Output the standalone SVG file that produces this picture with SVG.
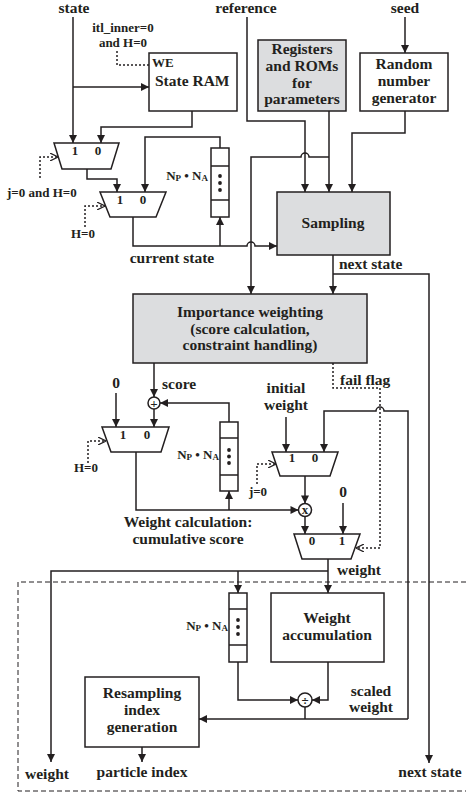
<svg xmlns="http://www.w3.org/2000/svg" width="466" height="795" viewBox="0 0 466 795">
<style>
text{font-family:"Liberation Serif","Times New Roman",serif;font-weight:bold;fill:#231f20;font-size:15.5px}
.s{font-size:13px}
.c{text-anchor:middle}
.e{text-anchor:end}
.box{fill:#fff;stroke:#231f20;stroke-width:1.5}
.gray{fill:#dcdddf}
.mux{fill:#fff;stroke:#231f20;stroke-width:1.5}
.w{fill:none;stroke:#231f20;stroke-width:1.5}
.a{marker-end:url(#arr)}
.d{fill:none;stroke:#231f20;stroke-width:1.5;stroke-dasharray:2,2}
.o{marker-end:url(#open)}
.dot{fill:#231f20}
</style>
<defs>
<marker id="arr" viewBox="0 0 10 10" refX="10" refY="5" markerWidth="9" markerHeight="8" markerUnits="userSpaceOnUse" orient="auto">
<path d="M0,0 L10,5 L0,10 z" fill="#231f20"/>
</marker>
<marker id="open" viewBox="0 0 10 10" refX="10" refY="5" markerWidth="8" markerHeight="8" markerUnits="userSpaceOnUse" orient="auto">
<path d="M0,0 L10,5 L0,10" fill="none" stroke="#231f20" stroke-width="1.5"/>
</marker>
</defs>
<rect width="466" height="795" fill="#fff"/>

<g id="labels">
<text class="c" x="74" y="13">state</text>
<text class="c" x="246" y="13">reference</text>
<text class="c" x="405" y="13">seed</text>
<text class="c s" x="123" y="32">itl_inner=0</text>
<text class="c s" x="123" y="47">and H=0</text>
<text class="s" x="7" y="197">j=0 and H=0</text>
<text class="c s" x="83" y="238">H=0</text>
<text class="c" x="172" y="263">current state</text>
<text x="339" y="269">next state</text>
<text x="162" y="389">score</text>
<text class="c" x="116" y="388">0</text>
<text class="c s" x="86" y="472">H=0</text>
<text class="c" x="286" y="393">initial</text>
<text class="c" x="286" y="410">weight</text>
<text x="340" y="385">fail flag</text>
<text class="c s" x="258" y="496">j=0</text>
<text class="c" x="343" y="497">0</text>
<text class="c" x="188" y="527">Weight calculation:</text>
<text class="c" x="188" y="544">cumulative score</text>
<text x="337" y="575">weight</text>
<text class="c" x="371" y="696">scaled</text>
<text class="c" x="371" y="712">weight</text>
<text class="c" x="47" y="779">weight</text>
<text class="c" x="142" y="777">particle index</text>
<text class="c" x="430" y="777">next state</text>
</g>

<g id="state-ram">
<rect class="box" x="149" y="53" width="88" height="58"/>
<text class="s" x="152" y="67">WE</text>
<text x="155" y="86">State RAM</text>
</g>

<g id="registers">
<rect class="box gray" x="258" y="40" width="88" height="71"/>
<text class="c" x="302" y="54">Registers</text>
<text class="c" x="302" y="71">and ROMs</text>
<text class="c" x="302" y="88">for</text>
<text class="c" x="302" y="104">parameters</text>
</g>

<g id="rng">
<rect class="box" x="360" y="53" width="88" height="58"/>
<text class="c" x="404" y="69">Random</text>
<text class="c" x="404" y="86">number</text>
<text class="c" x="404" y="103">generator</text>
</g>

<g id="mux1">
<polygon class="mux" points="54,143 119,143 111,169 62,169"/>
<text class="c s" x="75" y="155">1</text>
<text class="c s" x="98" y="155">0</text>
</g>

<g id="mux2">
<polygon class="mux" points="100,192 166,192 156,217 110,217"/>
<text class="c s" x="120" y="204">1</text>
<text class="c s" x="143" y="204">0</text>
</g>

<g id="fifo1">
<rect class="box" x="211" y="148" width="18" height="69"/>
<path class="w" d="M211,166 H229 M211,200 H229"/>
<circle class="dot" cx="220" cy="176" r="1.9"/>
<circle class="dot" cx="220" cy="183" r="1.9"/>
<circle class="dot" cx="220" cy="190" r="1.9"/>
<text class="s e" x="208" y="180">N<tspan font-size="9" dy="1">P</tspan><tspan dy="-1"> • N</tspan><tspan font-size="9" dy="1">A</tspan></text>
</g>

<g id="sampling">
<rect class="box gray" x="277" y="192" width="113" height="63"/>
<text class="c" x="333" y="228">Sampling</text>
</g>

<g id="importance">
<rect class="box gray" x="133" y="294" width="234" height="69"/>
<text class="c" x="250" y="317">Importance weighting</text>
<text class="c" x="250" y="333.5">(score calculation,</text>
<text class="c" x="250" y="350">constraint handling)</text>
</g>

<g id="adder">
<circle class="box" cx="154" cy="403" r="6"/>
<text class="c s" x="154" y="407.5">+</text>
</g>

<g id="mux3">
<polygon class="mux" points="102,427 169,427 161,452 111,452"/>
<text class="c s" x="123" y="439">1</text>
<text class="c s" x="147" y="439">0</text>
</g>

<g id="fifo2">
<rect class="box" x="220" y="422" width="18" height="69"/>
<path class="w" d="M220,438 H238 M220,475 H238"/>
<circle class="dot" cx="229" cy="450" r="1.9"/>
<circle class="dot" cx="229" cy="456.5" r="1.9"/>
<circle class="dot" cx="229" cy="463" r="1.9"/>
<text class="s e" x="219" y="459">N<tspan font-size="9" dy="1">P</tspan><tspan dy="-1"> • N</tspan><tspan font-size="9" dy="1">A</tspan></text>
</g>

<g id="mux4">
<polygon class="mux" points="272,452 338,452 330,476 280,476"/>
<text class="c s" x="292" y="462">1</text>
<text class="c s" x="315" y="462">0</text>
</g>

<g id="multiplier">
<circle class="box" cx="305" cy="510" r="6.5"/>
<text class="c s" x="305" y="514">x</text>
</g>

<g id="mux5">
<polygon class="mux" points="294,534 360,534 351,559 302,559"/>
<text class="c s" x="312" y="545">0</text>
<text class="c s" x="342" y="545">1</text>
</g>

<g id="fifo3">
<rect class="box" x="229" y="593" width="18" height="69"/>
<path class="w" d="M229,609 H247 M229,645 H247"/>
<circle class="dot" cx="238" cy="620" r="1.9"/>
<circle class="dot" cx="238" cy="627" r="1.9"/>
<circle class="dot" cx="238" cy="634" r="1.9"/>
<text class="s e" x="228" y="630">N<tspan font-size="9" dy="1">P</tspan><tspan dy="-1"> • N</tspan><tspan font-size="9" dy="1">A</tspan></text>
</g>

<g id="weight-accumulation">
<rect class="box" x="271" y="593" width="113" height="69"/>
<text class="c" x="327" y="623">Weight</text>
<text class="c" x="327" y="640">accumulation</text>
</g>

<g id="divider">
<circle class="box" cx="305" cy="700" r="7"/>
<text class="c s" x="305" y="704.5">÷</text>
</g>

<g id="resampling">
<rect class="box" x="85" y="677" width="114" height="70"/>
<text class="c" x="142" y="698">Resampling</text>
<text class="c" x="142" y="715">index</text>
<text class="c" x="142" y="732">generation</text>
</g>

<g id="connectors">
<path class="w a" d="M73,17 V143"/>
<path class="w a" d="M73,87 H149"/>
<path class="d" d="M117,51 V65 H149"/>
<path class="w a" d="M192,111 V127 H101 V143"/>
<path class="w a" d="M405,17 V53"/>
<path class="w a" d="M87,169 V179 H117 V192"/>
<path class="d o" d="M40,178 V157 H58"/>
<path class="w a" d="M220,148 V137 H145 V192"/>
<path class="d o" d="M85,227 V206 H105"/>
<path class="w a" d="M133,217 V246 H247 a4,4 0 0 1 8,0 H277"/>
<path class="w a" d="M220,246 V217"/>
<path class="w a" d="M247,17 V121 H305 V192"/>
<path class="w a" d="M329,111 V192"/>
<path class="w a" d="M329,157 H309 a4,4 0 0 0 -8,0 H251 V294"/>
<path class="w a" d="M405,111 V133 H352 V192"/>
<path class="w a" d="M333,255 V294"/>
<path class="w a" d="M333,274 H429 V763"/>
<path class="w a" d="M154,363 V397"/>
<path class="w a" d="M229,422 V403 H160"/>
<path class="w a" d="M154,409 V427"/>
<path class="w a" d="M116,393 V427"/>
<path class="d o" d="M88,463 V441 H106"/>
<path class="w a" d="M136,452 V510 H298.5"/>
<path class="w a" d="M229,510 V491"/>
<path class="w a" d="M286,417 V452"/>
<path class="d o" d="M257,484 V464 H276"/>
<path class="w a" d="M305,476 V503.5"/>
<path class="w a" d="M305,516.5 V534"/>
<path class="w a" d="M343,503 V534"/>
<path class="d o" d="M333,363 V388 H380 V548 H356"/>
<path class="w a" d="M328,559 V593"/>
<path class="w a" d="M328,571 H51 V762"/>
<path class="w a" d="M238,571 V593"/>
<path class="w a" d="M238,662 V700 H298"/>
<path class="w a" d="M328,662 V700 H312"/>
<path class="w" d="M305,707 V719"/>
<path class="w a" d="M408,719 H199"/>
<path class="w a" d="M408,719 V411 H384 a4,4 0 0 0 -8,0 H324 V452"/>
<path class="w a" d="M142,747 V762"/>
<path fill="none" stroke="#231f20" stroke-width="1" stroke-dasharray="5,3" d="M466,582 H18 V791 H466"/>
</g>
</svg>
